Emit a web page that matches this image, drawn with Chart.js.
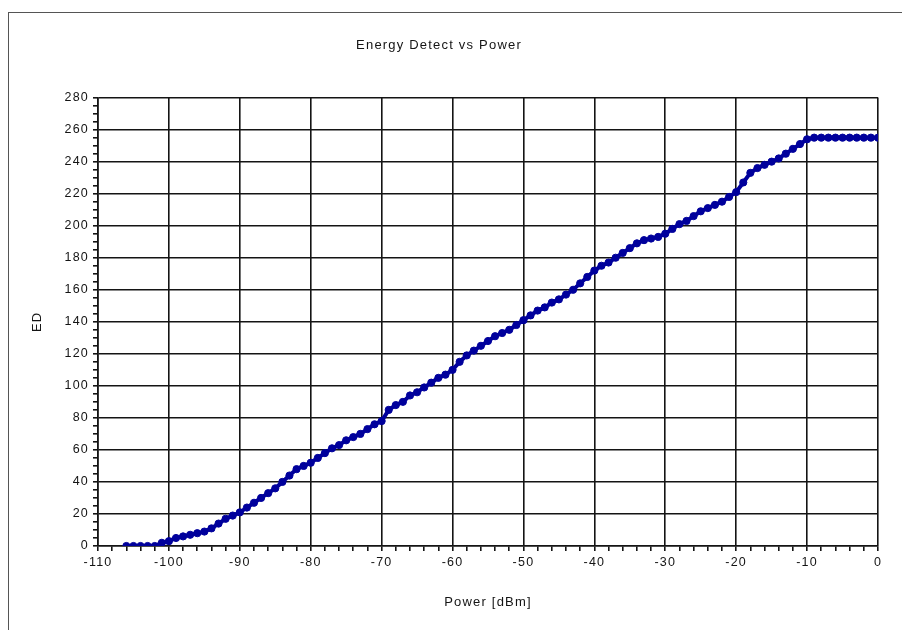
<!DOCTYPE html>
<html>
<head>
<meta charset="utf-8">
<title>Energy Detect vs Power</title>
<script src="https://cdn.jsdelivr.net/npm/chart.js@4.4.1/dist/chart.umd.min.js"></script>
<style>
    body { margin: 0; background: #fff; width: 902px; height: 630px; overflow: hidden; position: relative; }
    #frame { position: absolute; left: 8px; top: 12px; width: 1000px; height: 1000px; border: 1px solid #555; }
    #chart { position: absolute; left: 0; top: 0; }
</style>
</head>
<body>
<div id="frame"></div>
<canvas id="chart" width="902" height="630"></canvas>
<script>
// power in dBm, one reading per dBm
const powerDbm = [
    -106, -105, -104, -103, -102, -101, -100, -99, -98, -97, -96, -95, -94, -93, -92, -91,
    -90, -89, -88, -87, -86, -85, -84, -83, -82, -81, -80, -79, -78, -77, -76, -75, -74,
    -73, -72, -71, -70, -69, -68, -67, -66, -65, -64, -63, -62, -61, -60, -59, -58, -57,
    -56, -55, -54, -53, -52, -51, -50, -49, -48, -47, -46, -45, -44, -43, -42, -41, -40,
    -39, -38, -37, -36, -35, -34, -33, -32, -31, -30, -29, -28, -27, -26, -25, -24, -23,
    -22, -21, -20, -19, -18, -17, -16, -15, -14, -13, -12, -11, -10, -9, -8, -7, -6, -5,
    -4, -3, -2, -1, 0
];
const edValues = [
    0, 0, 0, 0, 0, 2, 3, 5, 6, 7, 8, 9, 11, 14, 17, 19,
    21, 24, 27, 30, 33, 36, 40, 44, 48, 50, 52, 55, 58, 61, 63, 66, 68,
    70, 73, 76, 78, 85, 88, 90, 94, 96, 99, 102, 105, 107, 110, 115, 119, 122,
    125, 128, 131, 133, 135, 138, 141, 144, 147, 149, 152, 154, 157, 160, 164, 168, 172,
    175, 177, 180, 183, 186, 189, 191, 192, 193, 195, 198, 201, 203, 206, 209, 211, 213,
    215, 218, 221, 227, 233, 236, 238, 240, 242, 245, 248, 251, 254, 255, 255, 255, 255, 255,
    255, 255, 255, 255, 255
];
const xTicksMajor = 10;
const yTicksMajor = 20;

const chartTitle = 'Energy Detect vs Power';
const xTitle = 'Power [dBm]';
const yTitle = 'ED';

const ink = '#141414';
const navy = '#00009c';
const font = { family: 'Liberation Sans, Arial, sans-serif', size: 12.5 };

// the old excel export has slightly spread out lettering
const spacing = {
    id: 'spacing',
    beforeDraw(chart) { chart.ctx.letterSpacing = '1.2px'; }
};

new Chart(document.getElementById('chart'), {
    type: 'scatter',
    data: {
        datasets: [{
            data: powerDbm.map((p, i) => ({ x: p, y: edValues[i] })),
            showLine: true,
            borderColor: navy,
            backgroundColor: navy,
            borderWidth: 4,
            pointRadius: 3.6,
            pointBorderWidth: 1,
            pointHoverRadius: 3.6,
            tension: 0
        }]
    },
    options: {
        responsive: false,
        animation: false,
        layout: { padding: { left: 0, right: 24, top: 0, bottom: 0 } },
        plugins: {
            legend: { display: false },
            tooltip: { enabled: false },
            title: {
                display: true,
                text: chartTitle,
                color: ink,
                font: { family: font.family, size: 13, weight: 'normal' },
                padding: { top: 38, bottom: 44 }
            }
        },
        scales: {
            x: {
                type: 'linear',
                min: -110,
                max: 0,
                afterFit: s => { s.height = 84; },
                ticks: {
                    stepSize: 2,
                    autoSkip: false,
                    maxRotation: 0,
                    padding: 4,
                    color: ink,
                    font: font,
                    callback: v => (v % xTicksMajor === 0 ? v : '')
                },
                grid: {
                    color: c => (c.tick && c.tick.value % xTicksMajor === 0 ? ink : 'rgba(0,0,0,0)'),
                    tickColor: ink,
                    tickLength: 5,
                    lineWidth: 1.6
                },
                border: { color: ink, width: 1.6 },
                title: {
                    display: true,
                    text: xTitle,
                    color: ink,
                    font: { family: font.family, size: 13 },
                    padding: { top: 0, bottom: 20 }
                }
            },
            y: {
                min: 0,
                max: 280,
                afterFit: s => { s.width = 98; },
                ticks: {
                    stepSize: 5,
                    autoSkip: false,
                    padding: 4,
                    color: ink,
                    font: font,
                    callback: v => (v % yTicksMajor === 0 ? v : '')
                },
                grid: {
                    color: c => (c.tick && c.tick.value % yTicksMajor === 0 ? ink : 'rgba(0,0,0,0)'),
                    tickColor: ink,
                    tickLength: 5,
                    lineWidth: 1.6
                },
                border: { color: ink, width: 1.6 },
                title: {
                    display: true,
                    text: yTitle,
                    color: ink,
                    font: { family: font.family, size: 13 },
                    padding: { top: 30, bottom: 0 }
                }
            }
        }
    },
    plugins: [spacing]
});
</script>
</body>
</html>
